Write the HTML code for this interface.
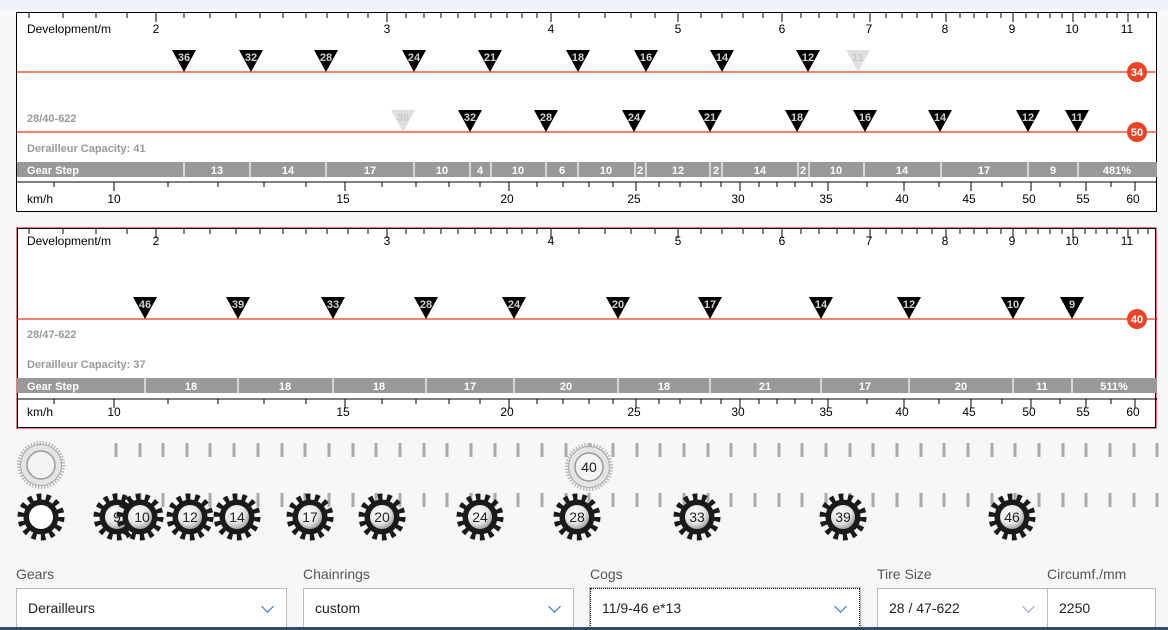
<!DOCTYPE html>
<html><head><meta charset="utf-8"><style>
body{margin:0;width:1168px;height:630px;background:#f7f7f7;font-family:"Liberation Sans",sans-serif;position:relative;overflow:hidden}
svg{position:absolute;left:0;top:0}
.lbl{position:absolute;top:566px;font-size:14px;color:#555}
.fld{position:absolute;top:588px;height:40px;box-sizing:border-box;background:#fff;border:1px solid #bbb;font-size:14px;color:#222;line-height:38px;padding-left:11px}
.chev{position:absolute;right:14px;top:13px;width:8px;height:8px;border-right:1.5px solid #2a6ebb;border-bottom:1.5px solid #2a6ebb;transform:rotate(45deg)}
</style></head><body>
<svg width="1168" height="630" viewBox="0 0 1168 630" font-family="Liberation Sans, sans-serif">
<defs>
<radialGradient id="rg" cx="40%" cy="35%" r="70%"><stop offset="0" stop-color="#fff"/><stop offset="0.6" stop-color="#e6e6e6"/><stop offset="1" stop-color="#999"/></radialGradient>
<g id="dt" stroke="#000" stroke-width="1">
<path d="M29 13v5M63 13v5M96 13v5M127 13v5M184 13v5M210 13v5M236 13v5M260 13v5M283 13v5M306 13v5M327 13v5M348 13v5M368 13v5M406 13v5M424 13v5M441 13v5M458 13v5M475 13v5M491 13v5M507 13v5M522 13v5M537 13v5M579 13v5M605 13v5M631 13v5M655 13v5M701 13v5M722 13v5M743 13v5M763 13v5M801 13v5M819 13v5M837 13v5M854 13v5M886 13v5M902 13v5M917 13v5M932 13v5M960 13v5M974 13v5M987 13v5M1001 13v5M1026 13v5M1038 13v5M1050 13v5M1062 13v5M1085 13v5M1096 13v5M1107 13v5M1117 13v5M1138 13v5M1148 13v5"/>
<path d="M156 13v9M387 13v9M551 13v9M678 13v9M782 13v9M870 13v9M946 13v9M1013 13v9M1073 13v9M1128 13v9"/>
</g>
<g id="kt" stroke="#000" stroke-width="1">
<path d="M17 182H1157"/>
<path d="M54 182v5M168 182v5M218 182v5M264 182v5M306 182v5M382 182v5M416 182v5M449 182v5M480 182v5M537 182v5M563 182v5M589 182v5M613 182v5M659 182v5M680 182v5M701 182v5M721 182v5M759 182v5M777 182v5M795 182v5M812 182v5M867 182v5M939 182v5M1002 182v5M1060 182v5M1111 182v5"/>
<path d="M114 182v9M345 182v9M509 182v9M636 182v9M740 182v9M828 182v9M904 182v9M971 182v9M1031 182v9M1086 182v9M1135 182v9"/>
</g>
<g id="devl" font-size="12" text-anchor="middle">
<text x="69" y="33">Development/m</text><text x="156" y="33">2</text><text x="387" y="33">3</text><text x="551" y="33">4</text><text x="678" y="33">5</text><text x="782" y="33">6</text><text x="869" y="33">7</text><text x="945" y="33">8</text><text x="1012" y="33">9</text><text x="1072" y="33">10</text><text x="1127" y="33">11</text>
</g>
<g id="kml" font-size="12" text-anchor="middle">
<text x="40" y="203">km/h</text><text x="114" y="203">10</text><text x="343" y="203">15</text><text x="507" y="203">20</text><text x="634" y="203">25</text><text x="738" y="203">30</text><text x="826" y="203">35</text><text x="902" y="203">40</text><text x="969" y="203">45</text><text x="1029" y="203">50</text><text x="1083" y="203">55</text><text x="1133" y="203">60</text>
</g>
<g id="cog"><circle r="20" fill="none" stroke="#1a1a1a" stroke-width="7" stroke-dasharray="4.5 4.5"/><circle r="17.5" fill="#1a1a1a"/><circle r="12" fill="url(#rg)"/></g>
<g id="ring"><circle r="22" fill="none" stroke="#bbb" stroke-width="4" stroke-dasharray="1.5 1.5"/><circle r="20.5" fill="#e4e4e4" stroke="#aaa"/><circle r="14" fill="#f4f4f4" stroke="#999" stroke-width="1.5"/></g>
</defs>
<rect x="0" y="0" width="1168" height="10" fill="#eef2f9"/>
<!-- Panel 1 -->
<rect x="16.5" y="12.5" width="1140" height="199" fill="#fff" stroke="#000"/>
<use href="#dt"/><use href="#devl"/>
<g stroke="#ee3a1c" stroke-width="1.3"><path d="M17 72H1157M17 132H1157"/></g>
<g font-size="11" font-weight="bold" text-anchor="middle" fill="#d0d0d0">
<g fill="#000"><path d="M172 50h24l-12 22zM239 50h24l-12 22zM314 50h24l-12 22zM402 50h24l-12 22zM478 50h24l-12 22zM566 50h24l-12 22zM634 50h24l-12 22zM710 50h24l-12 22zM796 50h24l-12 22z"/></g>
<path d="M846 50h24l-12 22z" fill="#e0e0e0"/>
<text x="184" y="61">36</text><text x="251" y="61">32</text><text x="326" y="61">28</text><text x="414" y="61">24</text><text x="490" y="61">21</text><text x="578" y="61">18</text><text x="646" y="61">16</text><text x="722" y="61">14</text><text x="808" y="61">12</text><text x="858" y="61" fill="#c8c8c8">11</text>
<g fill="#000"><path d="M458 110h24l-12 22zM534 110h24l-12 22zM622 110h24l-12 22zM698 110h24l-12 22zM785 110h24l-12 22zM853 110h24l-12 22zM928 110h24l-12 22zM1016 110h24l-12 22zM1065 110h24l-12 22z"/></g>
<path d="M391 110h24l-12 22z" fill="#e0e0e0"/>
<text x="403" y="121" fill="#c8c8c8">36</text><text x="470" y="121">32</text><text x="546" y="121">28</text><text x="634" y="121">24</text><text x="710" y="121">21</text><text x="797" y="121">18</text><text x="865" y="121">16</text><text x="940" y="121">14</text><text x="1028" y="121">12</text><text x="1077" y="121">11</text>
</g>
<g fill="#e8442a"><circle cx="1137" cy="72" r="10"/><circle cx="1137" cy="132" r="10"/></g>
<g font-size="11" font-weight="bold" fill="#fff" text-anchor="middle"><text x="1137" y="76">34</text><text x="1137" y="136">50</text></g>
<g font-size="11" font-weight="bold" fill="#999"><text x="27" y="122">28/40-622</text><text x="27" y="152">Derailleur Capacity: 41</text></g>
<rect x="17" y="162" width="1140" height="15" fill="#999"/>
<g stroke="#fff" stroke-width="1.2"><path d="M184 162v15M250 162v15M326 162v15M414 162v15M470 162v15M491 162v15M546 162v15M578 162v15M635 162v15M646 162v15M710 162v15M722 162v15M798 162v15M809 162v15M864 162v15M941 162v15M1028 162v15M1078 162v15"/></g>
<g font-size="11" font-weight="bold" fill="#fff" text-anchor="middle">
<text x="27" y="174" text-anchor="start">Gear Step</text><text x="217" y="174">13</text><text x="288" y="174">14</text><text x="370" y="174">17</text><text x="442" y="174">10</text><text x="480" y="174">4</text><text x="518" y="174">10</text><text x="562" y="174">6</text><text x="606" y="174">10</text><text x="640" y="174">2</text><text x="678" y="174">12</text><text x="716" y="174">2</text><text x="760" y="174">14</text><text x="803" y="174">2</text><text x="836" y="174">10</text><text x="902" y="174">14</text><text x="984" y="174">17</text><text x="1053" y="174">9</text><text x="1117" y="174">481%</text>
</g>
<use href="#kt"/><use href="#kml"/>
<!-- Panel 2 -->
<rect x="16.5" y="227.5" width="1140" height="201" fill="#fff" stroke="#c00" stroke-width="1" stroke-dasharray="1 1"/>
<rect x="17.5" y="228.5" width="1138" height="199" fill="none" stroke="#000" stroke-width="1"/>
<g transform="translate(0,216)"><use href="#dt"/></g>
<g transform="translate(0,212)"><use href="#devl"/></g>
<path d="M17 319H1157" stroke="#ee3a1c" stroke-width="1.3"/>
<g fill="#000"><path d="M133 297h24l-12 22zM226 297h24l-12 22zM321 297h24l-12 22zM414 297h24l-12 22zM502 297h24l-12 22zM606 297h24l-12 22zM698 297h24l-12 22zM809 297h24l-12 22zM897 297h24l-12 22zM1001 297h24l-12 22zM1060 297h24l-12 22z"/></g>
<g font-size="11" font-weight="bold" text-anchor="middle" fill="#d0d0d0"><text x="145" y="308">46</text><text x="238" y="308">39</text><text x="333" y="308">33</text><text x="426" y="308">28</text><text x="514" y="308">24</text><text x="618" y="308">20</text><text x="710" y="308">17</text><text x="821" y="308">14</text><text x="909" y="308">12</text><text x="1013" y="308">10</text><text x="1072" y="308">9</text></g>
<circle cx="1137" cy="319" r="10" fill="#e8442a"/><text x="1137" y="323" font-size="11" font-weight="bold" fill="#fff" text-anchor="middle">40</text>
<g font-size="11" font-weight="bold" fill="#999"><text x="27" y="338">28/47-622</text><text x="27" y="368">Derailleur Capacity: 37</text></g>
<rect x="17" y="378" width="1140" height="15" fill="#999"/>
<g stroke="#fff" stroke-width="1.2"><path d="M145 378v15M238 378v15M333 378v15M426 378v15M514 378v15M618 378v15M710 378v15M821 378v15M909 378v15M1013 378v15M1072 378v15"/></g>
<g font-size="11" font-weight="bold" fill="#fff" text-anchor="middle">
<text x="27" y="390" text-anchor="start">Gear Step</text><text x="191" y="390">18</text><text x="285" y="390">18</text><text x="379" y="390">18</text><text x="470" y="390">17</text><text x="566" y="390">20</text><text x="664" y="390">18</text><text x="765" y="390">21</text><text x="865" y="390">17</text><text x="961" y="390">20</text><text x="1042" y="390">11</text><text x="1114" y="390">511%</text>
</g>
<g transform="translate(0,217)"><use href="#kt"/></g>
<g transform="translate(0,213)"><use href="#kml"/></g>
<!-- sprocket ticks -->
<g stroke="#aaa" stroke-width="3">
<path d="M116 443v14M140 443v14M163 443v14M187 443v14M210 443v14M234 443v14M258 443v14M282 443v14M305 443v14M329 443v14M353 443v14M376 443v14M400 443v14M424 443v14M447 443v14M471 443v14M495 443v14M518 443v14M542 443v14M566 443v14M589 443v14M613 443v14M637 443v14M660 443v14M684 443v14M708 443v14M731 443v14M755 443v14M779 443v14M802 443v14M826 443v14M850 443v14M873 443v14M897 443v14M921 443v14M944 443v14M968 443v14M992 443v14M1015 443v14M1039 443v14M1063 443v14M1086 443v14M1110 443v14M1134 443v14M1157 443v14"/>
<path d="M116 493v14M140 493v14M163 493v14M187 493v14M210 493v14M234 493v14M258 493v14M282 493v14M305 493v14M329 493v14M353 493v14M376 493v14M400 493v14M424 493v14M447 493v14M471 493v14M495 493v14M518 493v14M542 493v14M566 493v14M589 493v14M613 493v14M637 493v14M660 493v14M684 493v14M708 493v14M731 493v14M755 493v14M779 493v14M802 493v14M826 493v14M850 493v14M873 493v14M897 493v14M921 493v14M944 493v14M968 493v14M992 493v14M1015 493v14M1039 493v14M1063 493v14M1086 493v14M1110 493v14M1134 493v14M1157 493v14"/>
</g>
<g transform="translate(41,465)"><use href="#ring"/></g>
<g transform="translate(589,467)"><use href="#ring"/></g>
<text x="589" y="472" font-size="14" text-anchor="middle" fill="#222">40</text>
<g transform="translate(41,517)"><circle r="20" fill="none" stroke="#1a1a1a" stroke-width="7" stroke-dasharray="4.5 4.5"/><circle r="17.5" fill="#1a1a1a"/><circle r="12" fill="#fff"/></g>
<use href="#cog" x="117" y="517"/><use href="#cog" x="140" y="517"/><use href="#cog" x="190" y="517"/><use href="#cog" x="237" y="517"/><use href="#cog" x="310" y="517"/><use href="#cog" x="382" y="517"/><use href="#cog" x="480" y="517"/><use href="#cog" x="577" y="517"/><use href="#cog" x="697" y="517"/><use href="#cog" x="843" y="517"/><use href="#cog" x="1012" y="517"/>
<g font-size="14" text-anchor="middle" fill="#222"><text x="117" y="522">9</text><text x="142" y="522">10</text><text x="190" y="522">12</text><text x="237" y="522">14</text><text x="310" y="522">17</text><text x="382" y="522">20</text><text x="480" y="522">24</text><text x="577" y="522">28</text><text x="697" y="522">33</text><text x="843" y="522">39</text><text x="1012" y="522">46</text></g>
</svg>
<div class="lbl" style="left:16px">Gears</div>
<div class="lbl" style="left:303px">Chainrings</div>
<div class="lbl" style="left:590px">Cogs</div>
<div class="lbl" style="left:877px">Tire Size</div>
<div class="lbl" style="left:1047px">Circumf./mm</div>
<div class="fld" style="left:16px;width:271px">Derailleurs<div class="chev"></div></div>
<div class="fld" style="left:303px;width:271px">custom<div class="chev"></div></div>
<div class="fld" style="left:590px;width:270px;border:1px dotted #000;outline:1px solid #bbb">11/9-46 e*13<div class="chev"></div></div>
<div class="fld" style="left:877px;width:171px">28 / 47-622<div class="chev" style="border-color:#8aa6c8"></div></div>
<div class="fld" style="left:1047px;width:109px">2250</div>
<div style="position:absolute;left:0;top:627px;width:1168px;height:3px;background:#354a5f"></div>
</body></html>
